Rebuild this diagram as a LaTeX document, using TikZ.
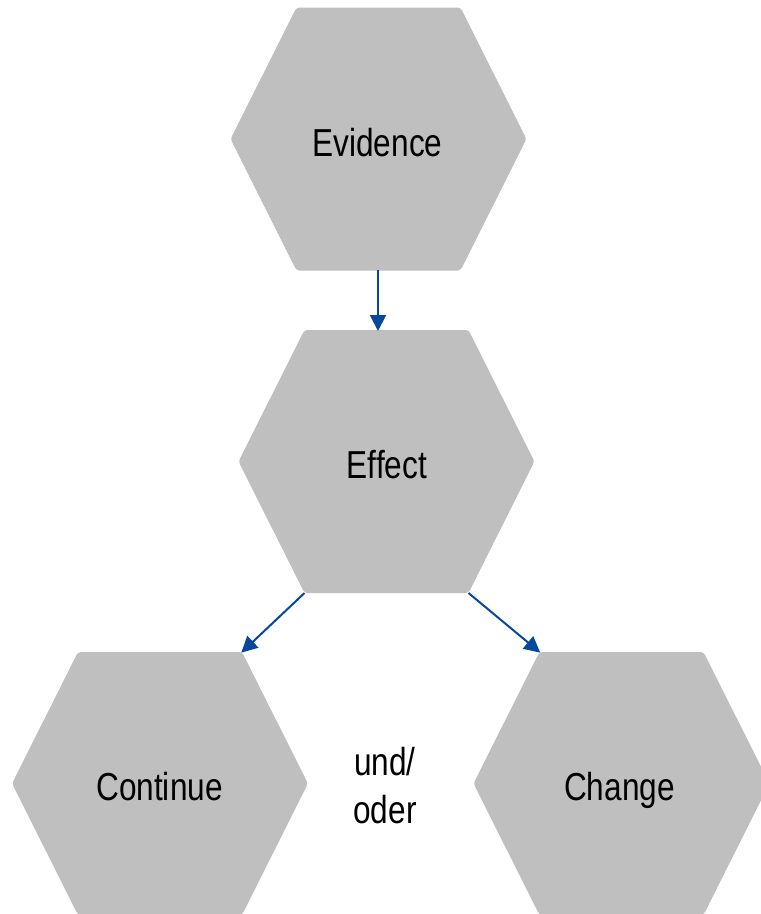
\documentclass[tikz,border=0pt]{standalone}
\usepackage{fontspec}
\usetikzlibrary{arrows.meta}
\newfontfamily\labfont[FakeStretch=0.81]{Liberation Sans}
\definecolor{hexgray}{RGB}{191,191,191}
\definecolor{arrowblue}{RGB}{6,72,156}
\tikzset{
  hexshape/.style={fill=hexgray, draw=none, rounded corners=3pt},
  lab/.style={anchor=base, inner sep=0pt, font=\labfont\fontsize{39}{48}\selectfont, text=black},
  conn/.style={draw=arrowblue, line width=2pt, -{Triangle[length=16pt,width=16pt]}, shorten >=-1pt},
}
\newcommand{\hexagon}[3]{%
  % #1 name, #2 cx, #3 cy
  \fill[hexshape] (#2-148,#3) -- (#2-82,#3-131.5) -- (#2+82,#3-131.5) -- (#2+148,#3)
     -- (#2+82,#3+131.5) -- (#2-82,#3+131.5) -- cycle;
  \coordinate (#1-tl) at (#2-82,#3-131.5);
  \coordinate (#1-tr) at (#2+82,#3-131.5);
  \coordinate (#1-bl) at (#2-82,#3+131.5);
  \coordinate (#1-br) at (#2+82,#3+131.5);
  \coordinate (#1-t) at (#2,#3-131.5);
  \coordinate (#1-b) at (#2,#3+131.5);
}
\begin{document}
\begin{tikzpicture}[x=1pt,y=-1pt]
  \useasboundingbox (0,0) rectangle (761,914);
  \clip (0,0) rectangle (761,914);
  \hexagon{evi}{378.5}{139}
  \hexagon{eff}{386.5}{461.5}
  \hexagon{con}{160}{783.5}
  \hexagon{cha}{621.5}{783.5}

  \node[lab] (tevi) at (377.5,156) {Evidence};
  \node[lab] (teff) at (387,478) {Effect};
  \node[lab] (tcon) at (159.5,800) {Continue};
  \node[lab] (tcha) at (619.5,800) {Change};
  \node[lab] (tund) at (385,775) {und/};
  \node[lab] (toder) at (385,823) {oder};

  \coordinate (a1s) at (378,270);
  \coordinate (a1e) at (378,330);
  \draw[conn] (a1s) -- (a1e);
  \draw[conn] (eff-bl) -- (con-tr);
  \draw[conn] (eff-br) -- (cha-tl);
\end{tikzpicture}
\end{document}
